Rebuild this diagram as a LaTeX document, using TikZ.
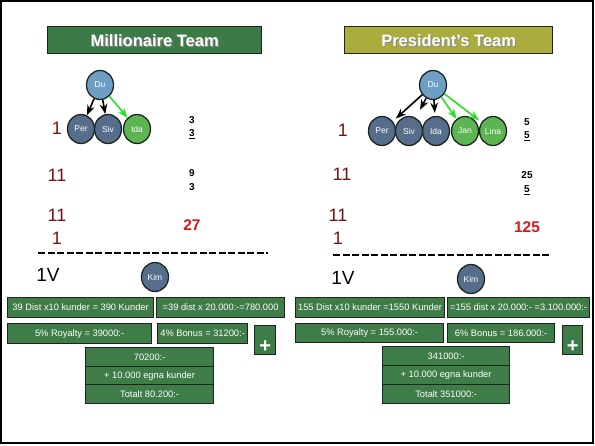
\documentclass[tikz,border=0pt]{standalone}
\usepackage{fontspec}
\setmainfont{Liberation Sans}
\usepackage{tikz}
\usetikzlibrary{
    arrows.meta,
    shapes.geometric
}
\usepackage{xcolor}
\definecolor{boxgreen}{RGB}{62,124,72}
\definecolor{boxline}{RGB}{28,38,30}
\definecolor{titlegreen}{RGB}{60,122,72}
\definecolor{titleolive}{RGB}{170,172,62}
\definecolor{dublue}{RGB}{108,158,198}
\definecolor{slate}{RGB}{86,110,140}
\definecolor{leafgreen}{RGB}{92,180,82}
\definecolor{arrowgreen}{RGB}{40,222,40}
\definecolor{levelred}{RGB}{118,18,20}
\definecolor{sumred}{RGB}{214,24,24}

\begin{document}
\begin{tikzpicture}[
        x=1pt, y=-1pt,
        >=Stealth,
        person/.style={
            ellipse,
            draw=boxline,
            line width=1.3pt,
            minimum width=27pt,
            minimum height=29pt,
            inner sep=0pt,
            text=white,
            font=\fontsize{8.5}{9}\selectfont
        },
        box/.style={
            rectangle,
            draw=boxline,
            fill=boxgreen,
            line width=1.2pt,
            anchor=north west,
            inner sep=0pt,
            minimum height=20pt,
            text=white,
            font=\fontsize{9.3}{10}\selectfont
        },
        titlebox/.style={
            rectangle,
            draw=boxline,
            line width=1.3pt,
            anchor=north west,
            minimum height=27pt
        },
        titletext/.style={
            text=white,
            font=\fontsize{16.5}{17}\selectfont\bfseries
        },
        titleshade/.style={
            text=black!45,
            font=\fontsize{16.5}{17}\selectfont\bfseries
        },
        level/.style={
            text=levelred,
            font=\fontsize{18}{18}\selectfont
        },
        count/.style={
            font=\fontsize{10}{10}\selectfont\bfseries
        },
        total/.style={
            text=sumred,
            font=\fontsize{15.5}{16}\selectfont\bfseries
        },
        vlabel/.style={
            font=\fontsize{19}{19}\selectfont
        },
        link/.style={
            ->,
            line width=1.6pt
        },
        newlink/.style={
            link,
            draw=arrowgreen
        }
    ]
        \useasboundingbox (0,0) rectangle (595,445);
        \draw[line width=2.5pt] (1.2,1.2) rectangle (593,443);

        % Millionaire Team
        \node[titlebox, fill=titlegreen, minimum width=214pt] (titleL) at (47,26) {};
        \node[titleshade] (titleLshade) at ([shift={(1.2pt,-1.2pt)}]titleL.center) {Millionaire Team};
        \node[titletext] (titleLtext) at (titleL.center) {Millionaire Team};

        \node[person, fill=dublue] (duL) at (100,85) {Du};
        \node[person, fill=slate] (perL) at (81,129) {Per};
        \node[person, fill=slate] (sivL) at (108,129) {Siv};
        \node[person, fill=leafgreen] (idaL) at (137,129) {Ida};
        \draw[link] (duL) -- (perL);
        \draw[link] (duL) -- (sivL);
        \draw[newlink] (duL) -- (idaL);

        \node[level] (oneL) at (57,128) {1};
        \node[level] (elevenL) at (57,175) {11};
        \node[level] (elevenLb) at (57,215) {11};
        \node[level] (oneLb) at (57,238) {1};
        \node[count] (cntLa) at (192,120) {3};
        \node[count] (cntLb) at (192,134) {\underline{3}};
        \node[count] (cntLc) at (192,173) {9};
        \node[count] (cntLd) at (192,187) {3};
        \node[total] (totalL) at (192,225) {27};
        \draw[line width=2pt, dash pattern=on 7pt off 2.5pt] (38,253) -- (268,253);

        \node[vlabel] (vL) at (48,275) {1V};
        \node[person, fill=slate] (kimL) at (155,277) {Kim};

        \node[box, minimum width=146pt] (distL) at (7,297) {39 Dist x10 kunder = 390 Kunder};
        \node[box, minimum width=128pt] (earnL) at (156,297) {=39 dist x 20.000:-=780.000};
        \node[box, minimum width=144pt] (royL) at (7,323) {5\% Royalty = 39000:-};
        \node[box, minimum width=90pt] (bonusL) at (157,323) {4\% Bonus = 31200:-};
        \node[box, minimum width=21pt, minimum height=29pt] (plusL) at (254,325)
            {\raisebox{-12pt}[0pt][0pt]{\fontsize{20}{20}\selectfont\bfseries +}};
        \node[box, minimum width=128pt, minimum height=19pt] (sumL) at (85,347) {70200:-};
        \node[box, minimum width=128pt, minimum height=18pt] (ownL) at (85,366) {+ 10.000 egna kunder};
        \node[box, minimum width=128pt, minimum height=19pt] (totL) at (85,384) {Totalt 80.200:-};

        % President's Team
        \node[titlebox, fill=titleolive, minimum width=208pt] (titleR) at (344,26) {};
        \node[titleshade] (titleRshade) at ([shift={(1.2pt,-1.2pt)}]titleR.center) {President's Team};
        \node[titletext] (titleRtext) at (titleR.center) {President's Team};

        \node[person, fill=dublue] (duR) at (433,85) {Du};
        \node[person, fill=slate] (perR) at (382,131) {Per};
        \node[person, fill=slate] (sivR) at (409,131) {Siv};
        \node[person, fill=slate] (idaR) at (436,131) {Ida};
        \node[person, fill=leafgreen] (janR) at (465,131) {Jan};
        \node[person, fill=leafgreen] (linaR) at (493,131) {Lina};
        \draw[link, shorten >=4pt] (duR) -- (perR);
        \draw[link, shorten >=9pt] (duR) -- (sivR);
        \draw[link, shorten >=3pt] (duR) -- (idaR);
        \draw[newlink] (duR) -- (janR);
        \draw[newlink, shorten >=3pt] (duR) -- (linaR);

        \node[level] (oneR) at (343,130) {1};
        \node[level] (elevenR) at (342,174) {11};
        \node[level] (elevenRb) at (338,215) {11};
        \node[level] (oneRb) at (338,238) {1};
        \node[count] (cntRa) at (527,122) {5};
        \node[count] (cntRb) at (527,136) {\underline{5}};
        \node[count] (cntRc) at (527,175) {25};
        \node[count] (cntRd) at (527,190) {\underline{5}};
        \node[total] (totalR) at (527,227) {125};
        \draw[line width=2pt, dash pattern=on 7pt off 2.5pt] (333,255) -- (549,255);

        \node[vlabel] (vR) at (343,278) {1V};
        \node[person, fill=slate] (kimR) at (471,279) {Kim};

        \node[box, minimum width=149pt] (distR) at (295,297) {155 Dist x10 kunder =1550 Kunder};
        \node[box, minimum width=142pt] (earnR) at (447,297) {=155 dist x 20.000:- =3.100.000:-};
        \node[box, minimum width=148pt, minimum height=19pt] (royR) at (295,323) {5\% Royalty = 155.000:-};
        \node[box, minimum width=107pt, minimum height=19pt] (bonusR) at (447,323) {6\% Bonus = 186.000:-};
        \node[box, minimum width=20pt, minimum height=29pt] (plusR) at (562,325)
            {\raisebox{-12pt}[0pt][0pt]{\fontsize{20}{20}\selectfont\bfseries +}};
        \node[box, minimum width=127pt, minimum height=19pt] (sumR) at (382,346) {341000:-};
        \node[box, minimum width=127pt, minimum height=19pt] (ownR) at (382,365) {+ 10.000 egna kunder};
        \node[box, minimum width=127pt, minimum height=19pt] (totR) at (382,384) {Totalt 351000:-};
    \end{tikzpicture}
\end{document}
